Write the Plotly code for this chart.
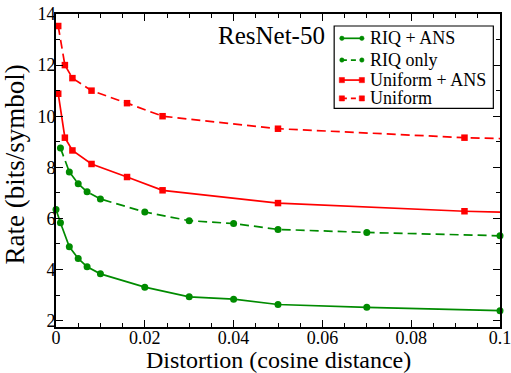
import plotly.graph_objects as go

# RIQ + ANS
riq_ans_x = [0.0, 0.001, 0.003, 0.005, 0.007, 0.01, 0.02, 0.03, 0.04, 0.05, 0.07, 0.1]
riq_ans_y = [6.35, 5.83, 4.89, 4.43, 4.11, 3.83, 3.31, 2.93, 2.84, 2.63, 2.52, 2.39]

# RIQ only
riq_x = [0.001, 0.003, 0.005, 0.007, 0.01, 0.02, 0.03, 0.04, 0.05, 0.07, 0.1]
riq_y = [8.76, 7.82, 7.36, 7.04, 6.76, 6.25, 5.91, 5.80, 5.57, 5.45, 5.32]

# Uniform + ANS
uni_ans_x = [0.0005, 0.002, 0.0037, 0.008, 0.016, 0.024, 0.05, 0.092, 0.12]
uni_ans_y = [10.88, 9.16, 8.66, 8.13, 7.62, 7.10, 6.60, 6.28, 6.16]

# Uniform
uni_x = [0.0005, 0.002, 0.0037, 0.008, 0.016, 0.024, 0.05, 0.092, 0.12]
uni_y = [13.53, 12.0, 11.49, 11.0, 10.51, 10.0, 9.51, 9.16, 9.04]

series_names = ["RIQ + ANS", "RIQ only", "Uniform + ANS", "Uniform"]
x_ticks = [0, 0.02, 0.04, 0.06, 0.08, 0.1]
x_tick_labels = ["0", "0.02", "0.04", "0.06", "0.08", "0.1"]
y_ticks = [2, 4, 6, 8, 10, 12, 14]

GREEN = "rgb(0,139,0)"
RED = "rgb(255,0,0)"
FONT = "Liberation Serif"
DASH = "9px,5px"

series = [
    (riq_ans_x, riq_ans_y, GREEN, "solid", "circle", False),
    (riq_x, riq_y, GREEN, DASH, "circle", False),
    (uni_ans_x, uni_ans_y, RED, "solid", "square", True),
    (uni_x, uni_y, RED, DASH, "square", True),
]

fig = go.Figure()
for name, (xs, ys, col, dash, sym, clip) in zip(series_names, series):
    fig.add_trace(go.Scatter(x=xs, y=ys, name=name, mode="lines+markers", showlegend=False,
                             cliponaxis=clip,
                             line=dict(color=col, width=1.7, dash=dash),
                             marker=dict(symbol=sym, size=7 if sym == "circle" else 6.5, color=col,
                                         line=dict(width=0))))

# ---- manual legend (xmgrace style: marker at both ends of the sample line) ----
L_X0, L_X1, L_Y0, L_Y1 = 0.6265, 0.985, 0.6984, 0.9616
fig.add_shape(type="rect", xref="paper", yref="paper", x0=L_X0, x1=L_X1, y0=L_Y0, y1=L_Y1,
              line=dict(color="black", width=1.2), fillcolor="white", layer="above")
row_y = [0.9223, 0.8529, 0.7889, 0.7304]
sx0, sx1, tx = 0.6439, 0.6889, 0.703
for name, (xs, ys, col, dash, sym, clip), ry in zip(series_names, series, row_y):
    fig.add_shape(type="line", xref="paper", yref="paper", x0=sx0, x1=sx1, y0=ry, y1=ry,
                  line=dict(color=col, width=1.7, dash="5px,4px" if dash != "solid" else "solid"),
                  layer="above")
    r = 2.2 if sym == "circle" else 2.6
    for sx in (sx0, sx1):
        fig.add_shape(type="circle" if sym == "circle" else "rect",
                      xref="paper", yref="paper", xsizemode="pixel", ysizemode="pixel",
                      xanchor=sx, yanchor=ry, x0=-r, x1=r, y0=-r, y1=r,
                      line=dict(color=col, width=0.5), fillcolor=col, layer="above")
    fig.add_annotation(text=name, xref="paper", yref="paper", x=tx, y=ry, showarrow=False,
                       xanchor="left", yanchor="middle", font=dict(family=FONT, size=18, color="black"))

fig.add_annotation(text="ResNet-50", xref="paper", yref="paper", x=0.4864, y=0.93,
                   showarrow=False, font=dict(family=FONT, size=25, color="black"),
                   xanchor="center", yanchor="middle")

# axis titles as annotations (exact placement)
fig.add_annotation(text="Distortion (cosine distance)", xref="paper", yref="paper",
                   x=0.5, y=-0.106, showarrow=False, xanchor="center", yanchor="middle",
                   font=dict(family=FONT, size=24, color="black"))
fig.add_annotation(text="Rate (bits/symbol)", xref="paper", yref="paper", textangle=-90,
                   x=-0.092, y=0.52, showarrow=False, xanchor="center", yanchor="middle",
                   font=dict(family=FONT, size=27, color="black"))

axis_common = dict(showline=True, linecolor="black", linewidth=1.7, mirror="ticks",
                   ticks="inside", ticklen=7, tickwidth=1.2, tickcolor="black",
                   showgrid=False, zeroline=False, automargin=False,
                   ticklabeloverflow="allow",
                   tickfont=dict(family=FONT, size=18, color="black"))

fig.update_xaxes(range=[0, 0.1], tickvals=x_ticks, ticktext=x_tick_labels, ticklabelstandoff=-6,
                 minor=dict(ticks="inside", ticklen=4, tickcolor="black", tickwidth=1, dtick=0.005, tick0=0,
                            showgrid=False),
                 **axis_common)
fig.update_yaxes(range=[1.75, 14], tickvals=y_ticks, ticklabelstandoff=-5,
                 minor=dict(ticks="inside", ticklen=4, tickcolor="black", tickwidth=1, dtick=1, tick0=0,
                            showgrid=False),
                 **axis_common)

fig.update_layout(
    template="none",
    width=511, height=373,
    margin=dict(l=55.5, r=11, t=14, b=46.3),
    plot_bgcolor="white", paper_bgcolor="white",
    font=dict(family=FONT, color="black"),
    showlegend=False,
)

fig.write_html("out.html", config={"displayModeBar": False},
               post_script="document.body.style.margin='0';document.body.style.overflow='hidden';")
